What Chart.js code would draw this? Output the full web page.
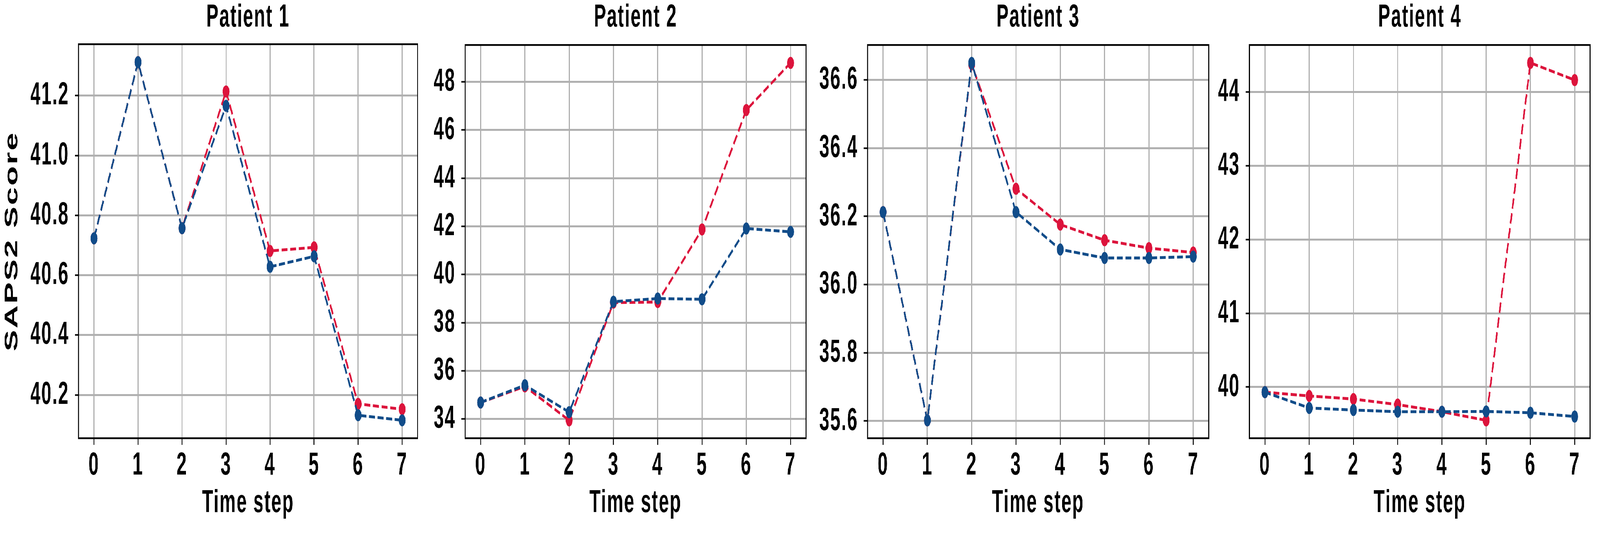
<!DOCTYPE html>
<html>
<head>
<meta charset="utf-8">
<script src="https://cdn.jsdelivr.net/npm/chart.js@4.4.1/dist/chart.umd.min.js"></script>
<style>
    html, body { margin: 0; padding: 0; background: #fff; overflow: hidden; }
    #figura { position: absolute; left: 0; top: 0; width: 7248px; height: 1380px; transform-origin: 0 0; background: #fff; }
    canvas { position: absolute; top: 0; }
</style>
</head>
<body>
<div id="figura">
    <canvas id="p1"></canvas>
    <canvas id="p2"></canvas>
    <canvas id="p3"></canvas>
    <canvas id="p4"></canvas>
</div>
<script>
// Dados
const timeSteps = [0, 1, 2, 3, 4, 5, 6, 7];
const titulos = ['Patient 1', 'Patient 2', 'Patient 3', 'Patient 4'];

const azulP1 = [40.723, 41.312, 40.757, 41.166, 40.628, 40.663, 40.132, 40.115];
const vermP1 = [40.723, 41.312, 40.757, 41.214, 40.681, 40.693, 40.170, 40.152];
const azulP2 = [34.683, 35.40, 34.28, 38.87, 39.00, 38.97, 41.91, 41.77];
const vermP2 = [34.683, 35.35, 33.94, 38.83, 38.855, 41.87, 46.83, 48.79];
const azulP3 = [36.2125, 35.602, 36.650, 36.2125, 36.103, 36.078, 36.078, 36.082];
const vermP3 = [36.2125, 35.602, 36.646, 36.281, 36.176, 36.130, 36.107, 36.094];
const azulP4 = [39.93, 39.716, 39.688, 39.665, 39.665, 39.669, 39.651, 39.60];
const vermP4 = [39.93, 39.879, 39.837, 39.762, 39.665, 39.548, 44.396, 44.163];

const ticksP1 = [40.2, 40.4, 40.6, 40.8, 41.0, 41.2];
const ticksP2 = [34, 36, 38, 40, 42, 44, 46, 48];
const ticksP3 = [35.6, 35.8, 36.0, 36.2, 36.4, 36.6];
const ticksP4 = [40, 41, 42, 43, 44];
const casasDecimais = [1, 0, 1, 0];

const seriesAzul = [azulP1, azulP2, azulP3, azulP4];
const seriesVerm = [vermP1, vermP2, vermP3, vermP4];
const ticksY = [ticksP1, ticksP2, ticksP3, ticksP4];

// figura desenhada em 7248x1380 e ajustada à janela real
const LARGURA_FIG = 7248;
const ALTURA = 1380;
const BASE = 1122;

// posição da área de plotagem de cada painel (px)
const paineis = [
    { left: 356, right: 1897, top: 113 },
    { left: 2107, right: 3657, top: 115 },
    { left: 3930, right: 5481, top: 115 },
    { left: 5660, right: 7209, top: 115 }
];

const AZUL = '#114C89';
const VERMELHO = '#DC143C';
const GRADE = '#b0b0b0';

Chart.defaults.font.family = '"Liberation Sans", Arial, sans-serif';
Chart.defaults.font.weight = 'bold';
Chart.defaults.color = '#000';

const figura = document.getElementById('figura');
const sx = window.innerWidth / LARGURA_FIG;
const sy = window.innerHeight / ALTURA;
figura.style.transform = 'scale(' + sx + ',' + sy + ')';

// contorno preto da área de plotagem + espaçamento do texto
const moldura = {
    id: 'moldura',
    beforeDraw(chart) {
        chart.ctx.letterSpacing = '4px';
    },
    afterDatasetsDraw(chart) {
        const { ctx, chartArea: a } = chart;
        ctx.save();
        ctx.strokeStyle = '#000';
        ctx.lineWidth = 4.5;
        ctx.strokeRect(a.left, a.top, a.right - a.left, a.bottom - a.top);
        ctx.restore();
    }
};

function margem(valores, frac) {
    const min = Math.min(...valores);
    const max = Math.max(...valores);
    const d = (max - min) * frac;
    return [min - d, max + d];
}

function serie(valores, cor) {
    return {
        data: timeSteps.map((t, i) => ({ x: t, y: valores[i] })),
        borderColor: cor,
        backgroundColor: cor,
        borderWidth: 7.3,
        borderDash: [27, 12],
        pointRadius: 15.5,
        pointHoverRadius: 15.5,
        pointBorderWidth: 0,
        pointBackgroundColor: cor,
        tension: 0
    };
}

function criarPainel(idx) {
    const p = paineis[idx];
    const canvas = document.getElementById('p' + (idx + 1));
    const larguraY = idx === 0 ? p.left : 260;
    const esquerda = p.left - larguraY;
    canvas.width = p.right + 10 - esquerda;
    canvas.height = ALTURA;
    canvas.style.left = esquerda + 'px';

    const [ymin, ymax] = margem(seriesAzul[idx].concat(seriesVerm[idx]), 0.05);
    const [xmin, xmax] = margem(timeSteps, 0.05);
    const fonte = { size: 82, weight: 'bold' };
    const grade = { color: GRADE, lineWidth: 5, tickLength: 17, tickColor: '#000', tickWidth: 4 };

    return new Chart(canvas, {
        type: 'line',
        data: {
            datasets: [serie(seriesAzul[idx], AZUL), serie(seriesVerm[idx], VERMELHO)]
        },
        options: {
            responsive: false,
            animation: false,
            devicePixelRatio: 1,
            layout: { padding: { right: 10 } },
            scales: {
                x: {
                    type: 'linear',
                    min: xmin,
                    max: xmax,
                    afterBuildTicks: s => { s.ticks = timeSteps.map(v => ({ value: v })); },
                    afterFit: s => { s.height = ALTURA - BASE; },
                    ticks: { padding: 4, color: '#000', font: fonte, callback: v => String(v) },
                    grid: grade,
                    border: { display: false },
                    title: {
                        display: true, text: 'Time step', color: '#000', font: fonte,
                        padding: { top: 0, bottom: 42 }
                    }
                },
                y: {
                    type: 'linear',
                    min: ymin,
                    max: ymax,
                    afterBuildTicks: s => { s.ticks = ticksY[idx].map(v => ({ value: v })); },
                    afterFit: s => { s.width = larguraY; },
                    ticks: {
                        padding: 26, color: '#000', font: fonte,
                        callback: v => Number(v).toFixed(casasDecimais[idx])
                    },
                    grid: grade,
                    border: { display: false },
                    title: {
                        display: idx === 0, text: 'SAPS2 Score', color: '#000', font: fonte,
                        padding: { top: 6, bottom: 0 }
                    }
                }
            },
            plugins: {
                legend: { display: false },
                tooltip: { enabled: false },
                title: {
                    display: true,
                    text: titulos[idx],
                    color: '#000',
                    fullSize: false,
                    font: { size: 82, weight: 'bold', lineHeight: 1.1 },
                    padding: { top: 0, bottom: p.top - 90 }
                }
            }
        },
        plugins: [moldura]
    });
}

titulos.forEach((t, i) => criarPainel(i));
</script>
</body>
</html>
